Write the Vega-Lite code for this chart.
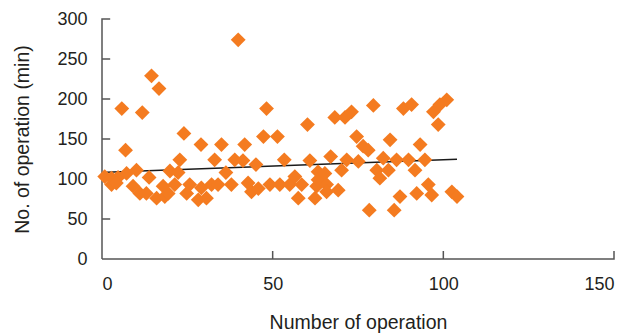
{
  "$schema": "https://vega.github.io/schema/vega-lite/v6.json",
  "width": 512,
  "height": 240,
  "autosize": {"type": "none"},
  "padding": {"left": 102, "top": 19, "right": 22, "bottom": 76},
  "background": "white",
  "config": {
    "view": {"stroke": null},
    "font": "Liberation Sans"
  },
  "datasets": {
    "points": [
      {"op": 0.8, "min": 103}, {"op": 2.8, "min": 93}, {"op": 2.8, "min": 101}, {"op": 4.7, "min": 102},
      {"op": 4.2, "min": 95}, {"op": 5.8, "min": 188}, {"op": 6.9, "min": 136}, {"op": 7.2, "min": 107},
      {"op": 9.1, "min": 91}, {"op": 10.1, "min": 111}, {"op": 11.1, "min": 82}, {"op": 11.8, "min": 183},
      {"op": 13, "min": 82}, {"op": 13.8, "min": 102}, {"op": 14.5, "min": 229}, {"op": 16, "min": 76},
      {"op": 16.7, "min": 213}, {"op": 17.9, "min": 91}, {"op": 18.4, "min": 78}, {"op": 19.4, "min": 82},
      {"op": 19.9, "min": 110}, {"op": 21.3, "min": 93}, {"op": 22.3, "min": 108}, {"op": 22.8, "min": 124},
      {"op": 24, "min": 157}, {"op": 24.8, "min": 82}, {"op": 25.7, "min": 93}, {"op": 28.2, "min": 74},
      {"op": 29, "min": 143}, {"op": 29.1, "min": 89}, {"op": 30.6, "min": 76}, {"op": 32.1, "min": 93},
      {"op": 33, "min": 124}, {"op": 34, "min": 93}, {"op": 35, "min": 143}, {"op": 36.3, "min": 108},
      {"op": 37.9, "min": 93}, {"op": 38.9, "min": 124}, {"op": 39.9, "min": 274}, {"op": 41.3, "min": 123},
      {"op": 41.8, "min": 143}, {"op": 42.8, "min": 95}, {"op": 43.8, "min": 84}, {"op": 45.1, "min": 118},
      {"op": 45.8, "min": 88}, {"op": 47.3, "min": 153}, {"op": 48.2, "min": 188}, {"op": 49.2, "min": 93},
      {"op": 51.4, "min": 153}, {"op": 52.1, "min": 93}, {"op": 53.4, "min": 124}, {"op": 55, "min": 93},
      {"op": 56.5, "min": 103}, {"op": 57.5, "min": 76}, {"op": 58.5, "min": 93}, {"op": 60.2, "min": 168},
      {"op": 60.9, "min": 123}, {"op": 62.4, "min": 76}, {"op": 62.9, "min": 91}, {"op": 63.3, "min": 109},
      {"op": 63.3, "min": 99}, {"op": 65.3, "min": 107}, {"op": 65.8, "min": 93}, {"op": 65.8, "min": 84},
      {"op": 67, "min": 128}, {"op": 68.2, "min": 177}, {"op": 69.2, "min": 86}, {"op": 70.2, "min": 111},
      {"op": 71.2, "min": 177}, {"op": 71.7, "min": 124}, {"op": 73.1, "min": 184}, {"op": 74.6, "min": 153},
      {"op": 75.1, "min": 122}, {"op": 76.5, "min": 141}, {"op": 78, "min": 136}, {"op": 78.3, "min": 61},
      {"op": 79.5, "min": 192}, {"op": 80.5, "min": 111}, {"op": 81.4, "min": 101}, {"op": 82.4, "min": 126},
      {"op": 83.9, "min": 111}, {"op": 84.4, "min": 149}, {"op": 85.6, "min": 61}, {"op": 86.3, "min": 124},
      {"op": 87.3, "min": 78}, {"op": 88.3, "min": 188}, {"op": 89.8, "min": 124}, {"op": 90.7, "min": 193},
      {"op": 91.7, "min": 111}, {"op": 92.2, "min": 82}, {"op": 93.2, "min": 143}, {"op": 94.6, "min": 124},
      {"op": 95.6, "min": 93}, {"op": 96.6, "min": 80}, {"op": 97.1, "min": 184}, {"op": 98.5, "min": 168},
      {"op": 99, "min": 193}, {"op": 101, "min": 199}, {"op": 102.5, "min": 84}, {"op": 104, "min": 78}
    ],
    "trend": [
      {"op": 1.3, "min": 108.4},
      {"op": 104, "min": 124.6}
    ],
    "axislines": [
      {"seg": "x", "k": 1, "op": 0, "min": 0},
      {"seg": "x", "k": 2, "op": 50, "min": 0},
      {"seg": "x", "k": 3, "op": 50, "min": 10},
      {"seg": "x", "k": 4, "op": 50, "min": 0},
      {"seg": "x", "k": 5, "op": 100, "min": 0},
      {"seg": "x", "k": 6, "op": 100, "min": 10},
      {"seg": "x", "k": 7, "op": 100, "min": 0},
      {"seg": "x", "k": 8, "op": 150, "min": 0},
      {"seg": "x", "k": 9, "op": 150, "min": 10},
      {"seg": "y", "k": 1, "op": 0, "min": 0},
      {"seg": "y", "k": 2, "op": 0, "min": 50},
      {"seg": "y", "k": 3, "op": 2.4, "min": 50},
      {"seg": "y", "k": 4, "op": 0, "min": 50},
      {"seg": "y", "k": 5, "op": 0, "min": 100},
      {"seg": "y", "k": 6, "op": 2.4, "min": 100},
      {"seg": "y", "k": 7, "op": 0, "min": 100},
      {"seg": "y", "k": 8, "op": 0, "min": 150},
      {"seg": "y", "k": 9, "op": 2.4, "min": 150},
      {"seg": "y", "k": 10, "op": 0, "min": 150},
      {"seg": "y", "k": 11, "op": 0, "min": 200},
      {"seg": "y", "k": 12, "op": 2.4, "min": 200},
      {"seg": "y", "k": 13, "op": 0, "min": 200},
      {"seg": "y", "k": 14, "op": 0, "min": 250},
      {"seg": "y", "k": 15, "op": 2.4, "min": 250},
      {"seg": "y", "k": 16, "op": 0, "min": 250},
      {"seg": "y", "k": 17, "op": 0, "min": 300},
      {"seg": "y", "k": 18, "op": 2.4, "min": 300}
    ]
  },
  "encoding": {
    "x": {
      "field": "op", "type": "quantitative",
      "scale": {"domain": [0, 150], "nice": false, "zero": true},
      "axis": {
        "values": [0, 50, 100, 150], "title": "Number of operation", "grid": false,
        "domain": false, "ticks": false, "labelOverlap": false,
        "labelFont": "Liberation Sans", "labelFontSize": 18, "labelColor": "#231f20",
        "titleFont": "Liberation Sans", "titleFontSize": 19.5, "titleFontWeight": "normal", "titleColor": "#231f20",
        "labelPadding": 16, "titlePadding": 20
      }
    },
    "y": {
      "field": "min", "type": "quantitative",
      "scale": {"domain": [0, 300], "nice": false},
      "axis": {
        "values": [0, 50, 100, 150, 200, 250, 300], "title": "No. of operation (min)", "grid": false,
        "domain": false, "ticks": false, "labelOverlap": false,
        "labelFont": "Liberation Sans", "labelFontSize": 18, "labelColor": "#231f20",
        "titleFont": "Liberation Sans", "titleFontSize": 19.5, "titleFontWeight": "normal", "titleColor": "#231f20",
        "labelPadding": 15, "titlePadding": 24
      }
    }
  },
  "layer": [
    {
      "data": {"name": "axislines"},
      "mark": {"type": "line", "color": "#555555", "strokeWidth": 1.5, "clip": false},
      "encoding": {
        "detail": {"field": "seg", "type": "nominal"},
        "order": {"field": "k", "type": "quantitative"}
      }
    },
    {
      "data": {"name": "trend"},
      "mark": {"type": "line", "color": "#1a1a1a", "strokeWidth": 1.5}
    },
    {
      "data": {"name": "points"},
      "mark": {"type": "point", "shape": "diamond", "filled": true, "color": "#f47b20", "opacity": 1, "size": 220}
    }
  ]
}
